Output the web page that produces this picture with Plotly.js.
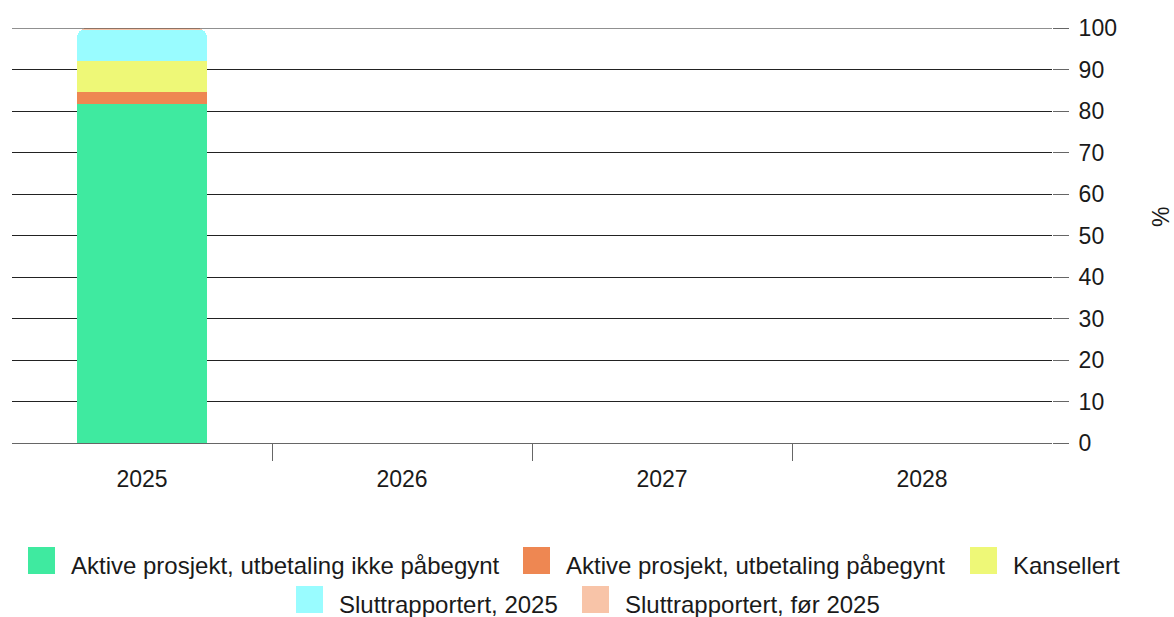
<!DOCTYPE html>
<html>
<head>
<meta charset="utf-8">
<script src="https://cdn.plot.ly/plotly-3.0.1.min.js"></script>
<style>html,body{margin:0;padding:0;background:#fff;}#chart{width:1174px;height:617px;}</style>
</head>
<body>
<div id="chart"></div>
<script>
const years = ["2025", "2026", "2027", "2028"];
const seriesNames = [
  "Aktive prosjekt, utbetaling ikke påbegynt",
  "Aktive prosjekt, utbetaling påbegynt",
  "Kansellert",
  "Sluttrapportert, 2025",
  "Sluttrapportert, før 2025"
];
const aktivIkkePabegynt = [81.7, null, null, null];
const aktivPabegynt = [2.9, null, null, null];
const kansellert = [7.5, null, null, null];
const slutt2025 = [7.4, null, null, null];
const sluttFor2025 = [0.5, null, null, null];
const colors = ["#3FEAA0", "#EE8752", "#EEF877", "#99FCFF", "#F8C4A8"];
const yTickVals = [0, 10, 20, 30, 40, 50, 60, 70, 80, 90, 100];

const W = 1174, H = 617;
const M = {l: 12, r: 122, t: 28, b: 174};
const PW = W - M.l - M.r, PH = H - M.t - M.b;
const px = x => (x - M.l) / PW;
const py = y => (H - M.b - y) / PH;

const values = [aktivIkkePabegynt, aktivPabegynt, kansellert, slutt2025, sluttFor2025];
const traces = values.map((v, i) => ({
  type: "bar",
  x: years,
  y: v,
  name: seriesNames[i],
  marker: {color: colors[i], line: {width: 0}},
  hoverinfo: "x+y+name",
  showlegend: false
}));

// custom legend layout (pixel positions of each entry: swatch left, row)
const legendPos = [
  {sx: 28, row: 0}, {sx: 523, row: 0}, {sx: 970, row: 0},
  {sx: 296, row: 1}, {sx: 582, row: 1}
];
const rowTop = [547, 586];
const sw = 27;
const shapes = [];
const annotations = [];
legendPos.forEach((p, i) => {
  const top = rowTop[p.row];
  shapes.push({
    type: "rect", xref: "paper", yref: "paper",
    x0: px(p.sx), x1: px(p.sx + sw), y0: py(top + sw), y1: py(top),
    fillcolor: colors[i], line: {width: 0}
  });
  annotations.push({
    xref: "paper", yref: "paper", x: px(p.sx + sw + 14), y: py(top + 18.5),
    xanchor: "left", yanchor: "middle", showarrow: false,
    text: seriesNames[i], font: {size: 24, color: "#1a1a1a"}
  });
});
// gridline at the top of the range
shapes.push({type: "line", xref: "paper", yref: "y", x0: 0, x1: 1, y0: 100, y1: 100,
  line: {color: "#222", width: 1}});
// y-axis title
annotations.push({
  xref: "paper", yref: "paper", x: px(1161), y: py(217),
  xanchor: "center", yanchor: "middle", showarrow: false, textangle: -90,
  text: "%", font: {size: 23, color: "#1a1a1a"}
});

const layout = {
  width: W, height: H,
  margin: M,
  barmode: "stack",
  bargap: 0.5,
  barcornerradius: 10,
  paper_bgcolor: "#fff", plot_bgcolor: "#fff",
  font: {family: "Liberation Sans, Arial, sans-serif", size: 23, color: "#1a1a1a"},
  showlegend: false,
  xaxis: {
    type: "category", range: [-0.5, 3.5],
    ticks: "", showgrid: false, showline: false, zeroline: false,
    ticklabelstandoff: 20, automargin: false, fixedrange: true
  },
  xaxis2: {
    overlaying: "x", anchor: "y", side: "bottom", type: "linear",
    range: [-0.5, 3.5], tickvals: [0.5, 1.5, 2.5], showticklabels: false,
    ticks: "outside", ticklen: 17, tickcolor: "#666", tickwidth: 1,
    showgrid: false, showline: false, zeroline: false, automargin: false, fixedrange: true
  },
  yaxis: {
    side: "right", range: [0, 100], tickvals: yTickVals,
    ticks: "outside", ticklen: 16, tickcolor: "#666", tickwidth: 1,
    showgrid: true, gridcolor: "#222", gridwidth: 1,
    zeroline: true, zerolinecolor: "#666", zerolinewidth: 1,
    showline: false, ticklabelstandoff: 5, automargin: false,
    fixedrange: true
  },
  shapes: shapes,
  annotations: annotations
};

// invisible helper trace that activates the tick-only xaxis2
traces.push({type: "scatter", x: [], y: [], xaxis: "x2", yaxis: "y", showlegend: false, hoverinfo: "skip"});

Plotly.newPlot("chart", traces, layout, {displayModeBar: false, staticPlot: true});
</script>
</body>
</html>
